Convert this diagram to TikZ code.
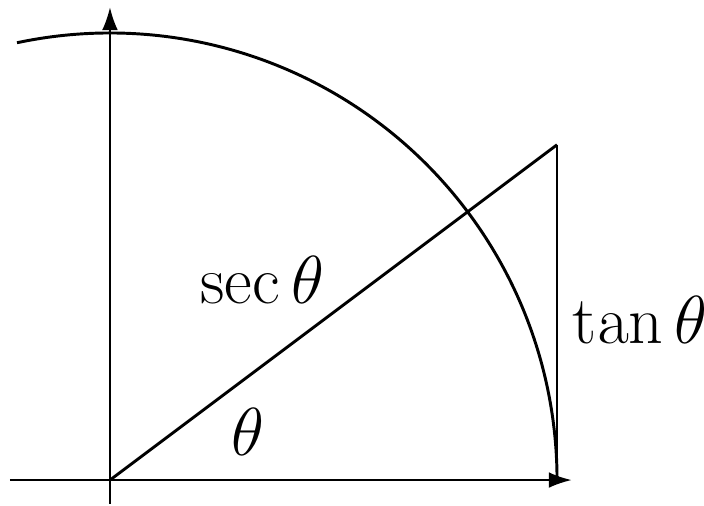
\documentclass[tikz,border=0pt]{standalone}
\usepackage{amsmath}
\usepackage{tikz}
\usetikzlibrary{arrows.meta, positioning}

\begin{document}
\begin{tikzpicture}[font=\fontsize{16}{19}\selectfont,
  axis/.style={line width=0.45pt, -{Latex[length=5.8pt, width=4pt]}},
  curve/.style={line width=0.75pt},
  leg/.style={line width=0.45pt}]
  \useasboundingbox (-0.984,-0.224) rectangle (5.315,4.295);
  \def\r{4}
  \coordinate (O) at (0,0);
  \coordinate (Q) at (\r,0);
  \coordinate (P) at (\r,3);
  \coordinate (xs) at (-0.895,0);
  \coordinate (xe) at (4.13,0);
  \coordinate (ys) at (0,-0.21);
  \coordinate (ye) at (0,4.23);
  % axes
  \draw[axis] (xs) -- (xe);
  \draw[axis] (ys) -- (ye);
  % unit arc
  \draw[curve] (102:\r) arc (102:0:\r);
  % secant and tangent
  \draw[curve] (O) -- node[pos=0.5, anchor=south east, inner sep=2pt] (sec) {$\sec\theta$} (P);
  \draw[leg] (P) -- node[right=0.5pt, yshift=-2pt] (tan) {$\tan\theta$} (Q);
  \node (ang) at (1.235,0.43) {$\theta$};
\end{tikzpicture}
\end{document}
